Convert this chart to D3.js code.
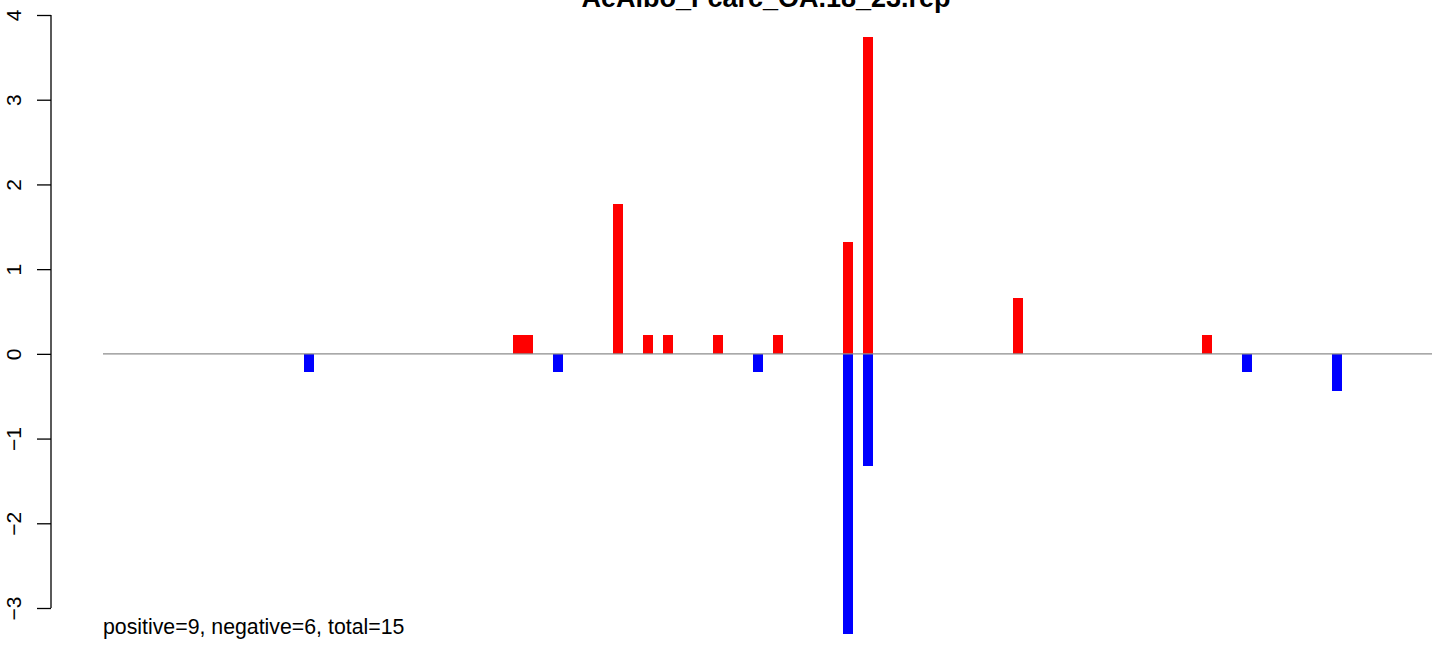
<!DOCTYPE html>
<html>
<head>
<meta charset="utf-8">
<script src="https://cdn.jsdelivr.net/npm/d3@7"></script>
<style>
  body { margin: 0; background: #fff; }
  svg { display: block; font-family: "Liberation Sans", Arial, sans-serif; }
</style>
</head>
<body>
<div id="chart"></div>
<script>
// Chart data (bar slot index along the x range, value)
var title = "AeAlbo_Fcarc_OA.18_23.rep";
var summary = "positive=9, negative=6, total=15";
var posIndex = [41, 42, 51, 54, 56, 61, 67, 74, 76, 91, 110];
var posValue = [0.22, 0.22, 1.77, 0.22, 0.22, 0.22, 0.22, 1.32, 3.74, 0.66, 0.22];
var negIndex = [20, 45, 65, 74, 76, 114, 123];
var negValue = [-0.22, -0.22, -0.22, -3.31, -1.32, -0.22, -0.44];
var yTicks = [-3, -2, -1, 0, 1, 2, 3, 4];
var nSlots = 133;

var width = 1444, height = 645;

var svg = d3.select("#chart")
  .append("svg")
    .attr("width", width)
    .attr("height", height);

// Scales
var x = d3.scaleLinear().domain([-0.1, nSlots]).range([103, 1432]);
var y = d3.scaleLinear().domain([-3, 4]).range([608, 15]);
var barW = 10;

// Bars
var posData = posIndex.map(function(d, i) { return {i: d, v: posValue[i]}; });
var negData = negIndex.map(function(d, i) { return {i: d, v: negValue[i]}; });

svg.selectAll(".pos")
  .data(posData)
  .enter()
  .append("rect")
    .attr("class", "pos")
    .attr("x", function(d) { return Math.round(x(d.i)); })
    .attr("y", function(d) { return y(d.v); })
    .attr("width", barW)
    .attr("height", function(d) { return y(0) - y(d.v); })
    .attr("fill", "#ff0000")
    .attr("shape-rendering", "crispEdges");

svg.selectAll(".neg")
  .data(negData)
  .enter()
  .append("rect")
    .attr("class", "neg")
    .attr("x", function(d) { return Math.round(x(d.i)); })
    .attr("y", y(0))
    .attr("width", barW)
    .attr("height", function(d) { return y(d.v) - y(0); })
    .attr("fill", "#0000ff")
    .attr("shape-rendering", "crispEdges");

// Zero line
svg.append("line")
  .attr("x1", 103)
  .attr("x2", 1432)
  .attr("y1", y(0))
  .attr("y2", y(0))
  .attr("stroke", "#8c8c8c")
  .attr("stroke-width", 1.3);

// Y axis, R style
var yAxis = svg.append("g")
  .attr("transform", "translate(51,0)")
  .call(d3.axisLeft(y).tickValues(yTicks).tickSize(14).tickPadding(0)
    .tickFormat(function(d) { return d < 0 ? "\u2212" + Math.abs(d) : d; }));

yAxis.select(".domain")
  .attr("d", "M0," + y(-3) + "V" + y(4))
  .attr("stroke", "#000")
  .attr("stroke-width", 1.3);
yAxis.selectAll(".tick line").attr("stroke", "#000").attr("stroke-width", 1.3);
yAxis.selectAll(".tick text")
  .attr("x", null)
  .attr("dy", null)
  .attr("transform", "translate(-30,0) rotate(-90)")
  .attr("text-anchor", "middle")
  .style("font-size", "21px")
  .style("font-family", "Liberation Sans, Arial, sans-serif")
  .attr("fill", "#000");

// Title
svg.append("text")
  .attr("x", 766)
  .attr("y", 7)
  .attr("text-anchor", "middle")
  .style("font-size", "27px")
  .style("font-weight", "bold")
  .text(title);

// Summary text
svg.append("text")
  .attr("x", 103)
  .attr("y", 634)
  .style("font-size", "21.3px")
  .text(summary);
</script>
</body>
</html>
